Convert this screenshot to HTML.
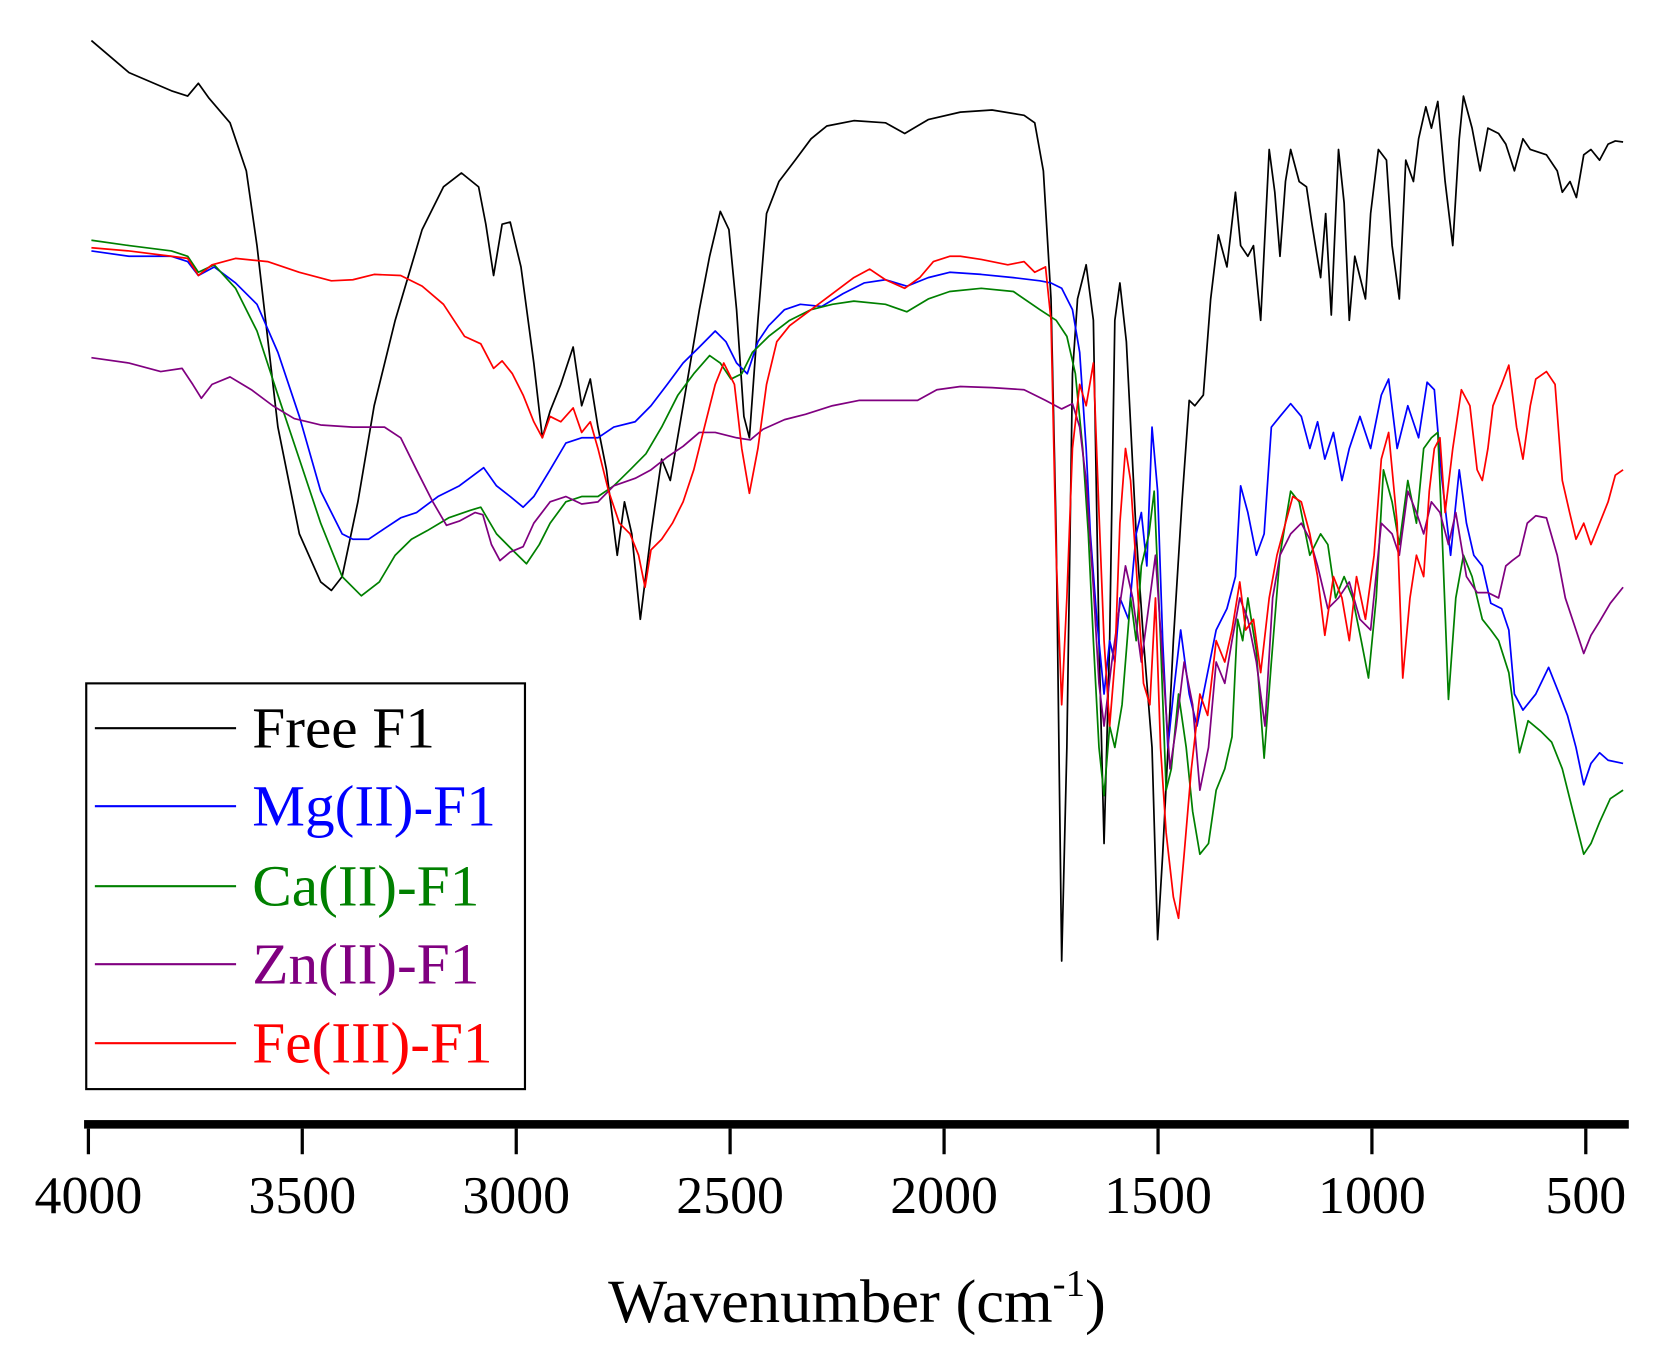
<!DOCTYPE html>
<html><head><meta charset="utf-8"><style>
html,body{margin:0;padding:0;background:#fff}
svg{display:block}
text{font-family:"Liberation Serif",serif}
</style></head><body>
<svg id="chart" width="1673" height="1371" viewBox="0 0 1552 1284" preserveAspectRatio="none" xmlns="http://www.w3.org/2000/svg">
<g id="series"></g>
<g id="axis">
<rect x="78" y="1049" width="1433" height="8" fill="#000"/>
</g>
<text x="795" y="1238" font-size="58" text-anchor="middle">Wavenumber (cm<tspan dy="-24" font-size="36">-1</tspan><tspan dy="24">)</tspan></text>
<g>
<rect x="80" y="640" width="407" height="380" fill="#fff" stroke="#000" stroke-width="2"/>
<line x1="88" y1="682" x2="219" y2="682" stroke="#000" stroke-width="2"/>
<text x="234" y="700" font-size="55" fill="#000">Free F1</text>
<line x1="88" y1="755" x2="219" y2="755" stroke="#0000ff" stroke-width="2"/>
<text x="234" y="773" font-size="55" fill="#0000ff">Mg(II)-F1</text>
<line x1="88" y1="830" x2="219" y2="830" stroke="#008000" stroke-width="2"/>
<text x="234" y="848" font-size="55" fill="#008000">Ca(II)-F1</text>
<line x1="88" y1="903" x2="219" y2="903" stroke="#800080" stroke-width="2"/>
<text x="234" y="921" font-size="55" fill="#800080">Zn(II)-F1</text>
<line x1="88" y1="977" x2="219" y2="977" stroke="#ff0000" stroke-width="2"/>
<text x="234" y="995" font-size="55" fill="#ff0000">Fe(III)-F1</text>
</g>
</svg>
<script>
const tickValues=[4000,3500,3000,2500,2000,1500,1000,500];
const tickLabels=["4000","3500","3000","2500","2000","1500","1000","500"];
const freeW=[3993,3905,3806,3768,3743,3718,3669,3631,3606,3557,3507,3457,3432,3407,3370,3332,3283,3220,3170,3128,3088,3071,3053,3033,3014,2989,2959,2939,2921,2896,2867,2847,2827,2809,2789,2764,2747,2730,2710,2685,2660,2640,2610,2572,2548,2523,2503,2485,2468,2455,2435,2415,2386,2348,2311,2274,2211,2137,2092,2037,1962,1888,1813,1788,1768,1750,1738,1725,1713,1700,1688,1668,1651,1638,1626,1613,1601,1589,1574,1551,1534,1514,1501,1489,1464,1444,1427,1414,1394,1377,1359,1339,1319,1307,1290,1277,1260,1240,1227,1215,1202,1190,1170,1153,1140,1120,1108,1095,1078,1065,1053,1040,1015,1003,985,966,953,936,921,903,891,874,861,846,829,811,796,786,766,747,729,704,687,667,647,630,592,567,555,537,522,505,488,468,448,431,413];
const freeV=[101.2,98.2,96.5,96,97.2,95.8,93.5,89,82,65,55,50.5,49.7,51,58,67,75,83.5,87.5,88.8,87.5,84,79.2,84,84.2,80,71,64,66.5,69,72.5,67,69.5,65,61,53,58,55,47,55,62,60,67,76,81,85.2,83.5,76,66,64,75,85,88,90,92,93.2,93.7,93.5,92.5,93.8,94.5,94.7,94.2,93.5,89,77,55,15,35,70,77,80.2,75,45,26,45,75,78.5,73,55,45,35,17,25,45,58,67.5,67,68,77,83,80,87,82,81,82,75,91,87,81,88,91,88,87.5,84,79,85,75.5,91,86,75,81,77,85,91,90,82,77,90,88,92,95,93,95.5,88,82,92,96,93,89,93,92.5,91.5,89,92,91,90.5,89,87,88,86.5,90.5,91,90,91.5,91.8,91.7];
const mgW=[3993,3905,3806,3768,3743,3706,3656,3606,3557,3507,3457,3407,3382,3345,3308,3270,3233,3183,3133,3076,3046,3014,2984,2959,2921,2884,2847,2809,2772,2722,2685,2647,2610,2572,2535,2510,2485,2460,2435,2410,2373,2336,2286,2236,2187,2137,2087,2037,1987,1913,1838,1776,1750,1725,1700,1683,1668,1658,1643,1626,1613,1601,1589,1569,1551,1539,1526,1514,1501,1489,1477,1464,1447,1427,1409,1389,1364,1339,1319,1307,1290,1270,1252,1235,1215,1190,1165,1145,1127,1110,1090,1070,1053,1028,1003,978,961,941,916,891,871,854,836,816,796,779,762,742,722,697,680,667,647,617,587,562,543,523,505,488,468,448,413];
const mgV=[81.5,81,81,80.5,79.2,80,78.5,76.5,72,66,59,55,54.5,54.5,55.5,56.5,57,58.5,59.5,61.2,59.5,58.5,57.5,58.5,61,63.5,64,64,65,65.5,67,69,71,72.5,74,73,71,70,73,74.5,76,76.5,76.3,77.5,78.5,78.8,78.2,79,79.5,79.3,79,78.7,78.5,78,76,72,63,55,47,40,45,43,49,47,55,57,52,65,59,45,35,40,46,40,37,41,46,48,51,59.5,57,53,55,65,66,67.2,66,63,65.5,62,64.5,60,63,66,63,68,69.5,63,67,64,69.2,68.5,60,53,61,56,53,52,48.5,48,46,40,38.5,40,42.5,40,38,35,31.5,33.5,34.5,33.8,33.5];
const caW=[3993,3905,3806,3768,3743,3706,3656,3606,3557,3507,3457,3407,3362,3320,3283,3245,3208,3158,3108,3083,3046,3009,2976,2946,2921,2884,2847,2809,2772,2734,2697,2660,2622,2585,2548,2523,2498,2473,2448,2410,2361,2311,2261,2211,2137,2087,2037,1987,1913,1838,1776,1738,1713,1693,1676,1663,1651,1638,1626,1613,1601,1584,1564,1551,1539,1521,1509,1494,1481,1469,1452,1434,1419,1402,1382,1364,1344,1327,1314,1302,1290,1270,1252,1235,1215,1190,1170,1145,1120,1103,1085,1065,1045,1025,1008,990,973,953,936,916,896,879,861,846,836,821,804,786,766,742,722,704,680,655,635,605,580,555,530,505,488,468,443,413];
const caV=[82.5,82,81.5,81,79.5,80.2,78,74,68,62,56,51,49.2,50.5,53,54.5,55.3,56.5,57.2,57.5,55,53.5,52.2,54,56,58,58.5,58.5,59.5,61,62.5,65,68,70,71.7,71,69.5,70,72,73.5,75,76,76.5,76.8,76.5,75.8,77,77.7,78,77.7,76,75,73.5,70,63,55,45,35,30.5,37,35,39,49,45,52,55,59,45,31,33,40,35,29,25,26,31,33,36,47,45,49,44,34,43,53,59,58,53,55,54,49,51,49,45,41.5,49,61,58,54,60,56,63,64,64.5,55,39.5,49,53,51,47,46,45,42,34.5,37.5,36.5,35.5,33,29,25,26,28,30.2,31];
const znW=[3993,3905,3831,3781,3756,3736,3711,3669,3619,3569,3519,3457,3382,3308,3270,3233,3195,3163,3133,3096,3078,3058,3038,3014,2984,2959,2921,2884,2847,2809,2772,2722,2685,2647,2610,2572,2535,2485,2453,2423,2373,2324,2261,2199,2137,2062,2017,1962,1888,1813,1763,1725,1700,1683,1668,1651,1638,1626,1608,1594,1576,1559,1539,1519,1506,1489,1472,1457,1439,1419,1402,1382,1364,1344,1327,1309,1290,1270,1250,1232,1215,1190,1165,1145,1127,1103,1078,1053,1028,1003,978,953,936,916,896,879,861,841,821,804,779,754,729,704,687,672,655,637,617,592,567,548,523,505,488,468,443,413];
const znV=[71.5,71,70.2,70.5,69,67.7,69,69.7,68.5,67,65.8,65.2,65,65,64,61,58,55.8,56.2,57,56.8,54,52.5,53.3,53.8,56,58,58.5,57.8,58,59.5,60.2,61,62.2,63.2,64.5,64.5,64,63.8,64.8,65.7,66.2,67,67.5,67.5,67.5,68.5,68.8,68.7,68.5,67.5,66.7,67.2,65,60,50,41,37,43,47,52,49,43,49,53,43,33,37,43,39,31,35,43,41,45,49,47,43,37,49,53,55,56,54.5,52,48,49,50.5,47,46,56,55,53,59,57,55,58,57,54,57,51,49.5,49.5,49,52,52.5,53,56,56.7,56.5,53,49,46,43.8,45.5,46.8,48.5,50];
const feW=[3993,3905,3806,3768,3743,3711,3656,3581,3507,3432,3382,3332,3270,3220,3170,3121,3083,3053,3033,3009,2984,2959,2939,2921,2896,2867,2847,2827,2809,2784,2759,2734,2714,2699,2685,2660,2635,2610,2585,2560,2535,2515,2490,2473,2455,2435,2415,2391,2361,2311,2261,2211,2174,2137,2092,2057,2025,1987,1962,1913,1851,1813,1788,1763,1750,1738,1725,1713,1700,1683,1668,1651,1638,1626,1613,1601,1589,1576,1564,1551,1534,1519,1506,1494,1481,1464,1452,1439,1422,1402,1384,1364,1344,1327,1309,1295,1277,1260,1240,1222,1202,1185,1165,1145,1127,1110,1090,1070,1053,1036,1015,995,978,961,941,928,911,896,879,866,854,841,829,811,791,771,754,742,729,717,697,680,662,647,630,617,592,572,555,538,523,505,488,468,448,431,413];
const feV=[81.8,81.5,81,80.8,79.2,80.2,80.8,80.5,79.5,78.7,78.8,79.3,79.2,78.2,76.5,73.5,72.8,70.5,71.2,70,68,65.5,64,66,65.5,66.8,64.5,65.5,63,59,56,55,53,50,53.5,54.5,56,58,61,65,69,71,69,63,58.8,63,69,73,74.5,76,77.5,79,79.8,78.8,78,79,80.5,81,81,80.7,80.2,80.5,79.5,80,75,53,39,49,63,69,67,71,57,45,37,43,56,63,60,52,41,39,49,35,27,21,19,25,33,40,38,45,43,46,50.5,46,47,42,49,53,56,58.5,58,55,51,45.5,51,49,45,51,47,53,62,64.5,56,41.5,49,53,51,59,63,64,57,63,68.5,67,61,60,63,67,69,70.8,65,62,67,69.5,70.2,69,60,57,54.5,56,54,56,58,60.5,61];

const svg=document.getElementById('chart');
const NS='http://www.w3.org/2000/svg';
function xScale(w){return 82+(4000-w)*0.3969;}
function yScale(v){return 1050-v*10;}
const seriesG=document.getElementById('series');
const seriesList=[
 ['free-f1',freeW,freeV,'#000000'],
 ['mg-f1',mgW,mgV,'#0000ff'],
 ['ca-f1',caW,caV,'#008000'],
 ['zn-f1',znW,znV,'#800080'],
 ['fe-f1',feW,feV,'#ff0000']
];
seriesList.forEach(function(s){
  const p=document.createElementNS(NS,'path');
  let d='';
  for(let i=0;i<s[1].length;i++){d+=(i?'L':'M')+xScale(s[1][i]).toFixed(1)+','+yScale(s[2][i]).toFixed(1);}
  p.setAttribute('d',d);
  p.setAttribute('fill','none');
  p.setAttribute('stroke',s[3]);
  p.setAttribute('stroke-width','1.6');
  p.setAttribute('stroke-linejoin','round');
  
  
  seriesG.appendChild(p);
});
const axisG=document.getElementById('axis');
tickValues.forEach(function(t,i){
  const l=document.createElementNS(NS,'rect');
  l.setAttribute('x',(xScale(t)-1.5).toFixed(1));
  l.setAttribute('y','1057');
  l.setAttribute('width','3');
  l.setAttribute('height','24');
  l.setAttribute('fill','#000');
  
  
  axisG.appendChild(l);
  const tx=document.createElementNS(NS,'text');
  tx.setAttribute('x',xScale(t).toFixed(1));
  tx.setAttribute('y','1136');
  tx.setAttribute('font-size','50');
  tx.setAttribute('text-anchor','middle');
  tx.textContent=tickLabels[i];
  
  
  axisG.appendChild(tx);
});
</script>
</body></html>
